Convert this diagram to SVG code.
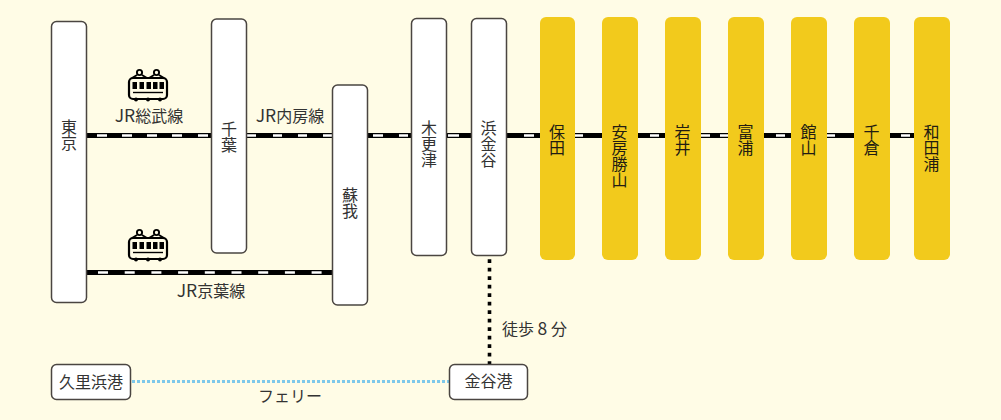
<svg xmlns="http://www.w3.org/2000/svg" width="1001" height="420" viewBox="0 0 1001 420">
<style>
text{font-family:"Noto Sans CJK JP","Noto Sans",sans-serif;fill:#333;font-size:16px}
.v{writing-mode:vertical-rl;text-anchor:start}
.m{text-anchor:middle}
.w{fill:#fff;stroke:#4a4541;stroke-width:1.5}
.y{fill:#f2ca1c}
.k{fill:#221c12}
.b{stroke:#000;stroke-width:5;fill:none}
.d{stroke:#fff;stroke-width:2.4;fill:none}
.l{font-size:17.500px}
</style>
<defs>
<g id="train" fill="none" stroke="#000">
<rect x="129" y="78" width="38" height="21" rx="4" stroke-width="2.200"/>
<circle cx="139.500" cy="72.500" r="2.600" stroke-width="1.900"/>
<circle cx="156.500" cy="72.500" r="2.600" stroke-width="1.900"/>
<path d="M132 78 137 75M147 78 142 75M149 78 154 75M164 78 159 75" stroke-width="1.800"/>
<path d="M133 92.500H163" stroke-width="1.400"/>
<g fill="#000" stroke="none">
<rect x="132.500" y="82" width="4.500" height="7"/><rect x="139.500" y="82" width="4.500" height="7"/><rect x="146.500" y="82" width="4.500" height="7"/><rect x="153" y="82" width="4.500" height="7"/><rect x="159.500" y="82" width="4.500" height="7"/>
<circle cx="136" cy="99.500" r="2"/><circle cx="148" cy="99.500" r="2"/><circle cx="160" cy="99.500" r="2"/>
</g>
</g>
</defs>
<rect width="1001" height="420" fill="#fffce6"/>
<g id="connectors">
<path class="b" d="M87 135.500H950M87 272.500H333"/>
<path class="d" d="M97 135.500H107M122 135.500H132M147 135.500H157M172 135.500H182M198 135.500H208"/>
<path class="d" d="M247 135.500H256M273 135.500H282M298 135.500H307M323 135.500H332"/>
<path class="d" d="M373 135.500H383M399 135.500H408M448 135.500H459M524 135.500H534"/>
<path class="d" d="M575 135.500H583M650 135.500H659M701 135.500H710M720 135.500H728M776 135.500H785M827 135.500H835M901 135.500H910"/>
<path class="d" stroke-dasharray="10 16.700" d="M98 272.500H333"/>
<path d="M489.500 259.300V364" fill="none" stroke="#000" stroke-width="3.600" stroke-dasharray="3.600 4.900"/>
<path d="M132 381.500H449" fill="none" stroke="#7dc8ea" stroke-width="3" stroke-dasharray="3 2"/>
</g>
<g id="n-tokyo"><rect class="w" x="51.500" y="21.500" width="35" height="281" rx="5"/><text class="v" x="69" y="119">東京</text></g>
<g id="n-chiba"><rect class="w" x="211.500" y="19" width="35" height="234" rx="5"/><text class="v" x="229" y="121">千葉</text></g>
<g id="n-soga"><rect class="w" x="332.500" y="85" width="35" height="220" rx="5"/><text class="v" x="350" y="187">蘇我</text></g>
<g id="n-kisarazu"><rect class="w" x="411.500" y="18.500" width="35" height="237" rx="5"/><text class="v" x="429" y="120">木更津</text></g>
<g id="n-hamakanaya"><rect class="w" x="471.500" y="18.500" width="35" height="237" rx="5"/><text class="v" x="488.500" y="120">浜金谷</text></g>
<g id="n-hota"><rect class="y" x="540" y="17" width="35" height="243" rx="6"/><text class="v k" x="557" y="124">保田</text></g>
<g id="n-awakatsuyama"><rect class="y" x="602" y="17" width="36" height="243" rx="6"/><text class="v k" x="619.500" y="124">安房勝山</text></g>
<g id="n-iwai"><rect class="y" x="665" y="17" width="36" height="243" rx="6"/><text class="v k" x="682.500" y="124">岩井</text></g>
<g id="n-tomiura"><rect class="y" x="728" y="17" width="36" height="243" rx="6"/><text class="v k" x="745.500" y="124">富浦</text></g>
<g id="n-tateyama"><rect class="y" x="791" y="17" width="36" height="243" rx="6"/><text class="v k" x="808.500" y="124">館山</text></g>
<g id="n-chikura"><rect class="y" x="854" y="17" width="36" height="243" rx="6"/><text class="v k" x="871.500" y="124">千倉</text></g>
<g id="n-wadaura"><rect class="y" x="914" y="17" width="36" height="243" rx="6"/><text class="v k" x="931.500" y="124">和田浦</text></g>
<g id="n-kurihama"><rect class="w" x="51.500" y="364.500" width="79" height="35" rx="5"/><text class="m" x="91" y="388">久里浜港</text></g>
<g id="n-kanaya"><rect class="w" x="449.500" y="364.500" width="78" height="35" rx="5"/><text class="m" x="488.500" y="387">金谷港</text></g>
<use href="#train"/>
<use href="#train" y="160"/>
<text class="m" x="149" y="122"><tspan class="l">JR</tspan>総武線</text>
<text class="m" x="290" y="122"><tspan class="l">JR</tspan>内房線</text>
<text class="m" x="211" y="297"><tspan class="l">JR</tspan>京葉線</text>
<text x="502" y="335" xml:space="preserve">徒歩 <tspan class="l">8</tspan> 分</text>
<text class="m" x="290" y="402">フェリー</text>
</svg>
